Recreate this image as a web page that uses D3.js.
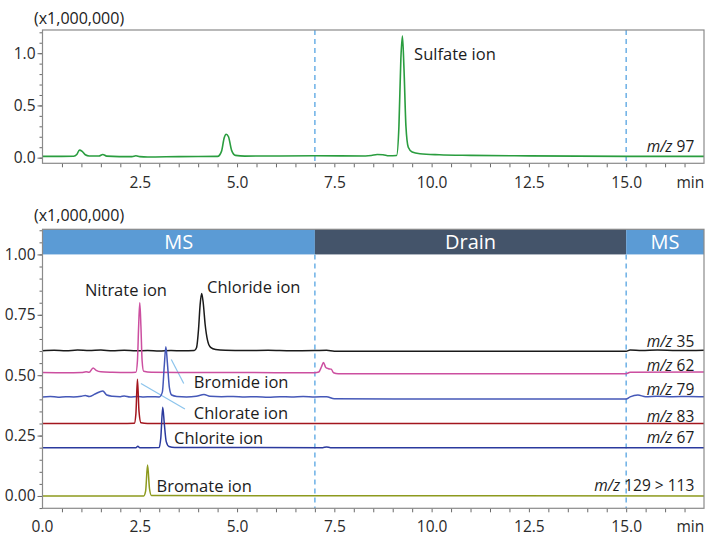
<!DOCTYPE html>
<html>
<head>
<meta charset="utf-8">
<script src="https://cdn.jsdelivr.net/npm/d3@7"></script>
<style>
  body { margin: 0; background: #fff; }
  text { font-family: "Open Sans", "Noto Sans", sans-serif; fill: #1c1c1c; }
  .axis text { font-size: 15.5px; fill: #2a2a2a; }
  .axis line { stroke: #6a6a6a; }
  .axis path { display: none; }
  .label { font-size: 16.5px; }
  .mz { font-size: 15.5px; }
</style>
</head>
<body>
<script>

// retention time window (min)
var timeDomain = [0, 17];
var valveSwitch = [7.0, 15.0];

// upper chromatogram, m/z 97 (x1,000,000)
var m97 = [[0,0.012],[0.5,0.012],[0.8,0.013],[0.88,0.03],[0.95,0.072],[1.02,0.06],[1.1,0.028],[1.2,0.016],[1.45,0.016],[1.55,0.03],[1.65,0.015],[2.3,0.01],[2.4,0.018],[2.5,0.01],[2.7,0.006],[3.5,0.01],[4.5,0.012],[4.6,0.06],[4.67,0.19],[4.72,0.224],[4.78,0.2],[4.86,0.07],[4.96,0.022],[5.2,0.015],[7.0,0.018],[8.3,0.016],[8.45,0.02],[8.6,0.03],[8.75,0.028],[8.9,0.018],[9.1,0.02],[9.16,0.3],[9.21,0.95],[9.25,1.165],[9.29,0.85],[9.34,0.3],[9.4,0.1],[9.5,0.055],[9.7,0.038],[10.2,0.028],[11,0.022],[12.5,0.017],[15,0.012],[17,0.012]];

// lower chromatograms (x1,000,000)
var m35 = [[0,0.601],[0.3,0.603],[0.6,0.601],[0.9,0.604],[1.2,0.602],[1.5,0.604],[1.8,0.601],[2.1,0.603],[2.4,0.601],[2.7,0.602],[3.0,0.600],[3.3,0.602],[3.6,0.601],[3.9,0.602],[3.96,0.615],[4.01,0.69],[4.05,0.79],[4.09,0.838],[4.13,0.8],[4.18,0.71],[4.24,0.645],[4.32,0.615],[4.45,0.606],[4.7,0.603],[5.2,0.602],[5.8,0.603],[6.4,0.601],[7.0,0.602],[7.3,0.603],[7.5,0.599],[9,0.599],[12,0.599],[15,0.599],[15.1,0.604],[15.4,0.602],[15.8,0.604],[16.3,0.602],[17,0.603]];
var m62 = [[0,0.511],[0.6,0.51],[1.0,0.511],[1.12,0.514],[1.2,0.512],[1.3,0.53],[1.38,0.52],[1.5,0.514],[1.8,0.512],[2.2,0.511],[2.4,0.512],[2.44,0.56],[2.47,0.7],[2.5,0.8],[2.53,0.7],[2.56,0.56],[2.6,0.516],[2.8,0.512],[3.5,0.511],[5,0.511],[7.0,0.51],[7.1,0.513],[7.17,0.535],[7.22,0.553],[7.28,0.532],[7.35,0.527],[7.42,0.525],[7.48,0.51],[7.6,0.506],[10,0.506],[15,0.506],[15.1,0.512],[17,0.513]];
var m79 = [[0,0.41],[0.2,0.412],[0.4,0.409],[0.6,0.411],[0.8,0.41],[1.0,0.413],[1.1,0.416],[1.2,0.412],[1.35,0.422],[1.55,0.435],[1.65,0.418],[1.8,0.413],[2.0,0.411],[2.1,0.414],[2.25,0.41],[2.45,0.412],[2.6,0.41],[2.8,0.411],[3.0,0.41],[3.08,0.43],[3.13,0.54],[3.17,0.618],[3.21,0.55],[3.26,0.45],[3.32,0.418],[3.45,0.412],[3.7,0.41],[3.95,0.413],[4.15,0.42],[4.3,0.413],[4.6,0.411],[4.9,0.412],[5.2,0.41],[5.5,0.411],[5.8,0.409],[6.1,0.411],[6.4,0.41],[6.7,0.412],[7.0,0.41],[7.3,0.411],[7.5,0.402],[9,0.401],[12,0.401],[15,0.401],[15.1,0.41],[15.3,0.418],[15.5,0.411],[15.8,0.413],[16.2,0.411],[16.6,0.412],[17,0.411]];
var m83 = [[0,0.30],[2.0,0.30],[2.36,0.301],[2.4,0.34],[2.44,0.483],[2.48,0.35],[2.53,0.303],[2.7,0.30],[17,0.30]];
var m67 = [[0,0.20],[2.4,0.20],[2.45,0.206],[2.5,0.20],[3.0,0.201],[3.04,0.24],[3.09,0.367],[3.13,0.3],[3.18,0.225],[3.25,0.205],[3.4,0.201],[7.2,0.2],[7.3,0.203],[7.4,0.2],[17,0.2]];
var m129 = [[0,0.0],[2.6,0.0],[2.65,0.02],[2.7,0.128],[2.75,0.03],[2.8,0.002],[17,0.0]];

var lowerSeries = [
  { name: "35", data: m35, color: "#1a1a1a", at: [16.75, 0.618] },
  { name: "62", data: m62, color: "#cc4fa0", at: [16.75, 0.519] },
  { name: "79", data: m79, color: "#4558b8", at: [16.75, 0.418] },
  { name: "83", data: m83, color: "#a3161e", at: [16.75, 0.305] },
  { name: "67", data: m67, color: "#2b3a9e", at: [16.75, 0.219] },
  { name: "129 > 113", data: m129, color: "#8d9a1e", at: [16.75, 0.0206] }
];

// peak names, [time, value] of the text start
var peakLabels = [
  { text: "Nitrate ion", at: [1.09, 0.828] },
  { text: "Chloride ion", at: [4.23, 0.839] },
  { text: "Bromide ion", at: [3.89, 0.446] },
  { text: "Chlorate ion", at: [3.89, 0.318] },
  { text: "Chlorite ion", at: [3.38, 0.215] },
  { text: "Bromate ion", at: [2.93, 0.018] }
];
var leaders = [
  [[3.31, 0.565], [3.63, 0.466]],
  [[2.53, 0.466], [3.66, 0.36]]
];

// flow path segments
var bands = [
  { from: 0, to: 7, text: "MS", color: "#5b9bd5" },
  { from: 7, to: 15, text: "Drain", color: "#44546a" },
  { from: 15, to: 17, text: "MS", color: "#5b9bd5" }
];

var topTicks = [0.0, 0.5, 1.0];
var bottomTicks = [0.0, 0.25, 0.5, 0.75, 1.0];
var timeTicks = [2.5, 5.0, 7.5, 10.0, 12.5, 15.0];

var width = 705, height = 537;
var svg = d3.select("body").append("svg")
    .attr("width", width)
    .attr("height", height);

var x = d3.scaleLinear().domain(timeDomain).range([42.5, 704]);
var yTop = d3.scaleLinear().domain([-0.054, 1.222]).range([163.3, 30]);
var yBot = d3.scaleLinear().domain([-0.051, 1.104]).range([508.3, 229.3]);

var minorTime = d3.range(0.5, 17, 0.5);

function drawAxes(g, y, majors, minorStep, fmt, bottom, showZero, padding) {
  var yd = y.domain();
  var minors = d3.range(Math.ceil(yd[0] / minorStep) * minorStep, yd[1], minorStep)
      .map(function(v) { return Math.round(v * 1000) / 1000; });

  g.append("g").attr("class", "axis")
      .attr("transform", "translate(" + x.range()[0] + ",0)")
      .call(d3.axisLeft(y).tickValues(minors).tickSize(3).tickFormat(""));
  g.append("g").attr("class", "axis")
      .attr("transform", "translate(" + x.range()[0] + ",0)")
      .call(d3.axisLeft(y).tickValues(majors).tickSize(5).tickPadding(2).tickFormat(d3.format(fmt)));

  var labels = showZero ? [0].concat(timeTicks) : timeTicks;
  g.append("g").attr("class", "axis")
      .attr("transform", "translate(0," + bottom + ")")
      .call(d3.axisBottom(x).tickValues(minorTime).tickSize(4).tickPadding(padding)
        .tickFormat(function(d) { return labels.indexOf(d) >= 0 ? d3.format(".1f")(d) : ""; }));
  if (showZero) {
    g.append("text")
        .attr("x", x(0)).attr("y", bottom + 4 + padding).attr("dy", "0.71em")
        .attr("text-anchor", "middle").style("font-size", "15.5px").style("fill", "#2a2a2a")
        .text("0.0");
  }
  g.append("text")
      .attr("x", x(16.65)).attr("y", bottom + 4 + padding).attr("dy", "0.71em")
      .attr("text-anchor", "middle").style("font-size", "15.5px").style("fill", "#2a2a2a")
      .text("min");
}

function mzLabel(g, y, name, at) {
  var t = g.append("text").attr("class", "mz")
      .attr("x", x(at[0])).attr("y", y(at[1]))
      .attr("text-anchor", "end");
  t.append("tspan").style("font-style", "italic").text("m/z");
  t.append("tspan").text(" " + name);
}

// ---------- upper panel ----------
var topPanel = svg.append("g");
topPanel.append("text").attr("x", 34).attr("y", 24).style("font-size", "16px").text("(x1,000,000)");
drawAxes(topPanel, yTop, topTicks, 0.1, ".1f", 163.3, false, 10);

valveSwitch.forEach(function(t) {
  topPanel.append("line")
      .attr("x1", x(t)).attr("x2", x(t))
      .attr("y1", 30).attr("y2", 163.3)
      .style("stroke", "#6cb0e6").style("stroke-width", 1.5)
      .style("stroke-dasharray", "5,4");
});

var lineTop = d3.line()
    .x(function(d) { return x(d[0]); })
    .y(function(d) { return yTop(d[1]); })
    .curve(d3.curveMonotoneX);
topPanel.append("path").datum(m97)
    .attr("d", lineTop)
    .style("fill", "none").style("stroke", "#2a9d3f").style("stroke-width", 1.6);

topPanel.append("text").attr("class", "label")
    .attr("x", x(9.55)).attr("y", yTop(0.935)).text("Sulfate ion");
mzLabel(topPanel, yTop, "97", [16.75, 0.054]);

topPanel.append("rect")
    .attr("x", 42.5).attr("y", 30).attr("width", 704 - 42.5).attr("height", 163.3 - 30)
    .style("fill", "none").style("stroke", "#8a8a8a").style("stroke-width", 1.2);

// ---------- lower panel ----------
var botPanel = svg.append("g");
botPanel.append("text").attr("x", 34).attr("y", 221).style("font-size", "16px").text("(x1,000,000)");
drawAxes(botPanel, yBot, bottomTicks, 0.05, ".2f", 508.3, true, 9);

botPanel.selectAll(".band")
    .data(bands)
  .enter().append("rect").attr("class", "band")
    .attr("x", function(d) { return x(d.from); })
    .attr("width", function(d) { return x(d.to) - x(d.from); })
    .attr("y", 229.3)
    .attr("height", yBot(1.0) - 229.3)
    .style("fill", function(d) { return d.color; });
botPanel.selectAll(".bandtext")
    .data(bands)
  .enter().append("text").attr("class", "bandtext")
    .attr("x", function(d) { return x((d.from + d.to) / 2); })
    .attr("y", (229.3 + yBot(1.0)) / 2)
    .attr("dy", "0.36em")
    .attr("text-anchor", "middle")
    .style("font-size", "20px").style("fill", "#fff")
    .text(function(d) { return d.text; });

valveSwitch.forEach(function(t) {
  botPanel.append("line")
      .attr("x1", x(t)).attr("x2", x(t))
      .attr("y1", yBot(1.0)).attr("y2", 508.3)
      .style("stroke", "#6cb0e6").style("stroke-width", 1.5)
      .style("stroke-dasharray", "5,4");
});

var lineBot = d3.line()
    .x(function(d) { return x(d[0]); })
    .y(function(d) { return yBot(d[1]); })
    .curve(d3.curveMonotoneX);

// leader lines go under the traces
leaders.forEach(function(l) {
  botPanel.append("line")
      .attr("x1", x(l[0][0])).attr("y1", yBot(l[0][1]))
      .attr("x2", x(l[1][0])).attr("y2", yBot(l[1][1]))
      .style("stroke", "#8cc4ec").style("stroke-width", 1.2);
});

botPanel.selectAll(".trace")
    .data(lowerSeries)
  .enter().append("path").attr("class", "trace")
    .attr("d", function(d) { return lineBot(d.data); })
    .style("fill", "none")
    .style("stroke", function(d) { return d.color; })
    .style("stroke-width", 1.5);

lowerSeries.forEach(function(s) { mzLabel(botPanel, yBot, s.name, s.at); });

botPanel.selectAll(".peak")
    .data(peakLabels)
  .enter().append("text").attr("class", "label peak")
    .attr("x", function(d) { return x(d.at[0]); })
    .attr("y", function(d) { return yBot(d.at[1]); })
    .text(function(d) { return d.text; });

botPanel.append("rect")
    .attr("x", 42.5).attr("y", 229.3).attr("width", 704 - 42.5).attr("height", 508.3 - 229.3)
    .style("fill", "none").style("stroke", "#8a8a8a").style("stroke-width", 1.2);

</script>
</body>
</html>
